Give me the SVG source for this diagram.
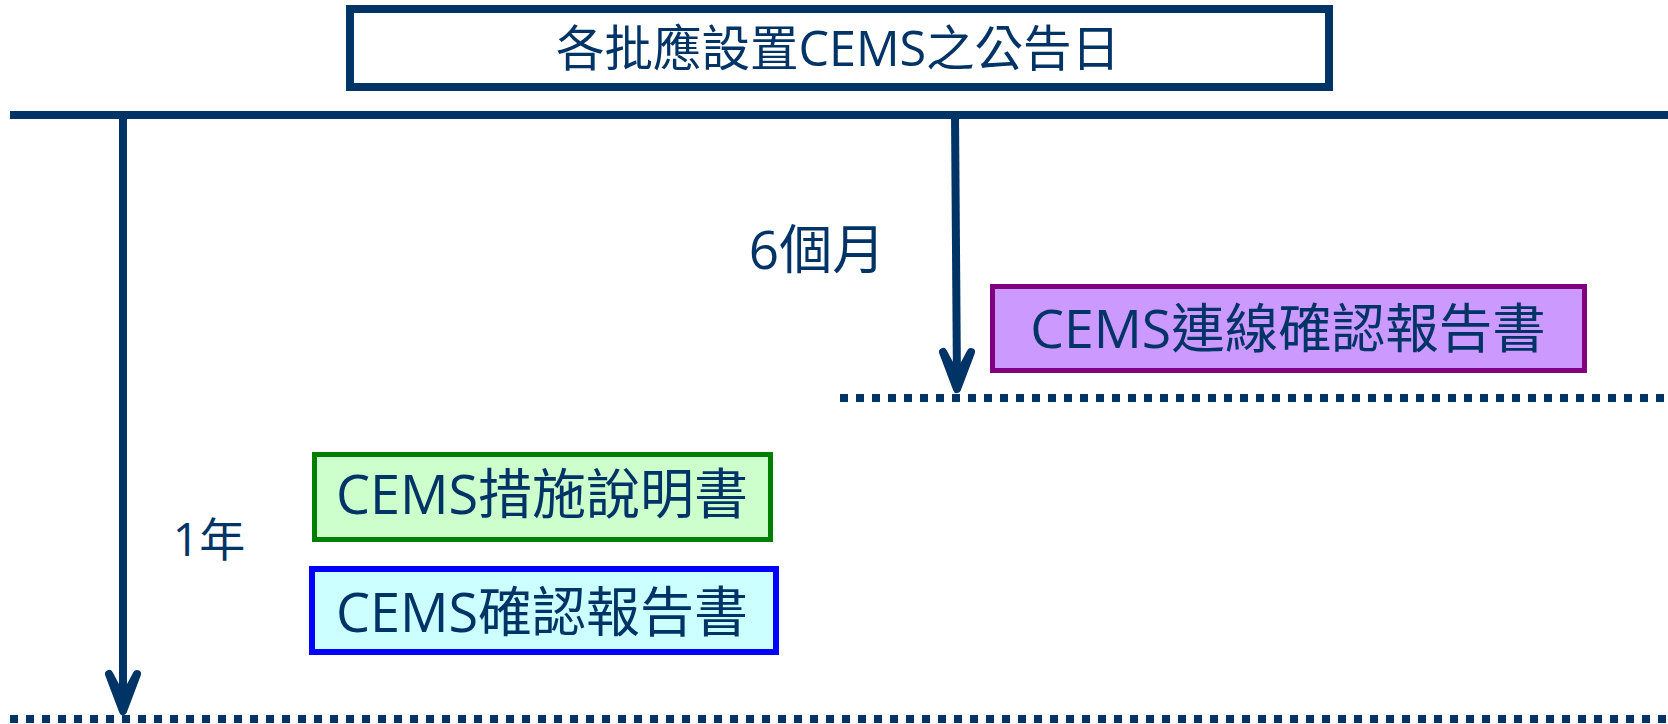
<svg xmlns="http://www.w3.org/2000/svg" width="1668" height="724" viewBox="0 0 1668 724">
<style>
text{font-family:"Open Sans","Noto Sans CJK TC",sans-serif;fill:#003366;text-anchor:middle}
.ln{stroke:#003366;stroke-width:8;fill:none}
.dot{stroke:#003366;stroke-width:8;fill:none;stroke-dasharray:8 8}
.ah{stroke:#003366;stroke-width:8;fill:#003366;stroke-linecap:round;stroke-linejoin:round}
</style>
<rect width="1668" height="724" fill="#ffffff"/>
<g id="title">
<rect x="350" y="9" width="979" height="78" fill="#ffffff" stroke="#003366" stroke-width="8"/>
<text x="838" y="66" font-size="48.5">各批應設置CEMS之公告日</text>
</g>
<g id="connectors">
<line class="ln" x1="10" y1="115" x2="1668" y2="115"/>
<line class="dot" x1="10" y1="719" x2="1668" y2="719"/>
<line class="dot" x1="840" y1="398" x2="1668" y2="398"/>
<line class="ln" x1="123" y1="115" x2="123" y2="706"/>
<path class="ah" d="M109,674 L123,711 L137,674 L123,700 Z"/>
<line class="ln" x1="955" y1="115" x2="957" y2="384"/>
<path class="ah" d="M943,352 L957,389 L971,352 L957,378 Z"/>
</g>
<g id="label-6m"><text x="817" y="269" font-size="53">6個月</text></g>
<g id="label-1y"><text x="209" y="556" font-size="46">1年</text></g>
<g id="purple">
<rect x="992.5" y="286.5" width="592" height="84" fill="#CC99FF" stroke="#800080" stroke-width="5"/>
<text x="1288" y="348" font-size="53.5">CEMS連線確認報告書</text>
</g>
<g id="green">
<rect x="314.5" y="454.5" width="456" height="85" fill="#CCFFCC" stroke="#008000" stroke-width="5"/>
<text x="542" y="514" font-size="54">CEMS措施說明書</text>
</g>
<g id="blue">
<rect x="312" y="569" width="464" height="83" fill="#CCFFFF" stroke="#0000FF" stroke-width="6"/>
<text x="542" y="632" font-size="54">CEMS確認報告書</text>
</g>
</svg>
